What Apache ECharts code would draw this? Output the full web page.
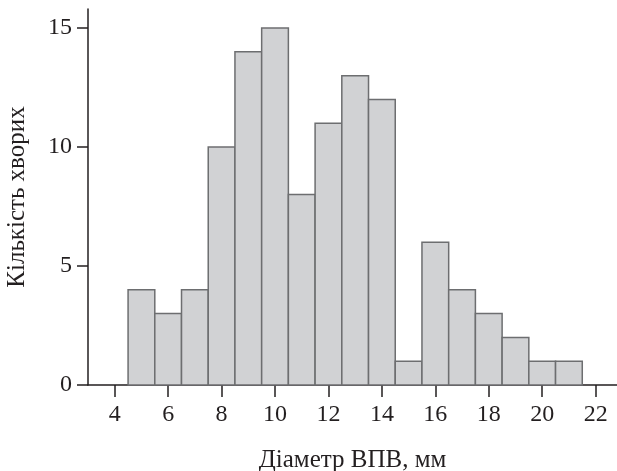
<!DOCTYPE html>
<html><head><meta charset="utf-8">
<script src="https://cdn.jsdelivr.net/npm/echarts@6/dist/echarts.min.js"></script>
<style>html,body{margin:0;padding:0;background:#fff}#c{width:617px;height:471px}</style>
</head><body><div id="c"></div>
<script>
const binCenters = [5,6,7,8,9,10,11,12,13,14,15,16,17,18,19,20,21];
const counts =     [4,3,4,10,14,15,8,11,13,12,1,6,4,3,2,1,1];
const xTicks = [4,6,8,10,12,14,16,18,20,22];
const yTicks = [0,5,10,15];
const binWidth = 1;

const data = binCenters.map((c,i)=>[c - binWidth/2, c + binWidth/2, counts[i]]);
const chart = echarts.init(document.getElementById('c'));
const font = '"Liberation Serif", "Times New Roman", serif';
chart.setOption({
  animation:false,
  grid:{left:88, top:9, right:0, bottom:86, outerBoundsMode:'none', containLabel:false},
  xAxis:{type:'value', min:3, max:22.8,
    name:'Діаметр ВПВ, мм', nameLocation:'middle', nameGap:63,
    nameTextStyle:{fontFamily:font, fontSize:25, color:'#231f20'},
    axisLine:{lineStyle:{color:'#231f20', width:1.5}},
    axisTick:{customValues:xTicks, length:12, lineStyle:{color:'#231f20', width:1.5}},
    axisLabel:{customValues:xTicks, margin:18, fontFamily:font, fontSize:24, color:'#231f20'},
    splitLine:{show:false}},
  yAxis:{type:'value', min:0, max:15.8,
    name:'Кількість хворих', nameLocation:'middle', nameGap:58,
    nameTextStyle:{fontFamily:font, fontSize:25, color:'#231f20'},
    axisLine:{show:true, lineStyle:{color:'#231f20', width:1.5}},
    axisTick:{show:true, customValues:yTicks, length:11, lineStyle:{color:'#231f20', width:1.5}},
    axisLabel:{customValues:yTicks, margin:16, fontFamily:font, fontSize:24, color:'#231f20'},
    splitLine:{show:false}},
  series:[{type:'custom', data:data,
    encode:{x:[0,1], y:2},
    renderItem:function(params, api){
      const p0 = api.coord([api.value(0), api.value(2)]);
      const p1 = api.coord([api.value(1), 0]);
      return {type:'rect', shape:{x:p0[0], y:p0[1], width:p1[0]-p0[0], height:p1[1]-p0[1]},
        style:{fill:'#d1d2d4', stroke:'#6d6e70', lineWidth:1.5}};
    }}]
});
</script></body></html>
